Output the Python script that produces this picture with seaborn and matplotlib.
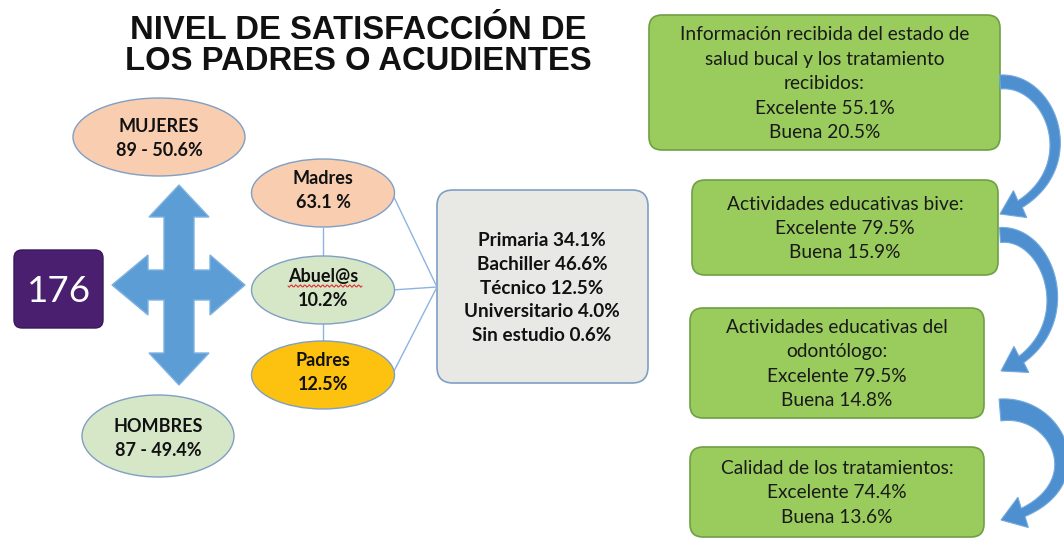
import numpy as np
import matplotlib
matplotlib.use("Agg")
import matplotlib.pyplot as plt
import seaborn as sns
from matplotlib.patches import Ellipse, FancyBboxPatch, Polygon

# --- data -------------------------------------------------------------
title = "NIVEL DE SATISFACCIÓN DE\nLOS PADRES O ACUDIENTES"
total = 176

gender_labels = ["MUJERES", "HOMBRES"]
gender_counts = [89, 87]
gender_pct = [50.6, 49.4]

guardian_labels = ["Madres", "Abuel@s", "Padres"]
guardian_pct = [63.1, 10.2, 12.5]
guardian_sep = [" ", "", ""]

education_levels = ["Primaria", "Bachiller", "Técnico", "Universitario", "Sin estudio"]
education_pct = [34.1, 46.6, 12.5, 4.0, 0.6]

survey_items = [
    "Información recibida del estado de\nsalud bucal y los tratamiento\nrecibidos:",
    "Actividades educativas bive:",
    "Actividades educativas del\nodontólogo:",
    "Calidad de los tratamientos:",
]
excelente_pct = [55.1, 79.5, 79.5, 74.4]
buena_pct = [20.5, 15.9, 14.8, 13.6]

# --- style ------------------------------------------------------------
sns.set_theme(style="white")
plt.rcParams["font.family"] = ["Lato", "DejaVu Sans"]

fig = plt.figure(figsize=(10.64, 5.40), dpi=100)
ax = fig.add_axes([0, 0, 1, 1])
ax.set_xlim(0, 1064)
ax.set_ylim(540, 0)
ax.axis("off")

line_blue = "#8db3e2"
edge_blue = "#7f9fc4"
arrow_blue = "#4d8fcf"


def lines_at(x, yc, lines, step, **kw):
    n = len(lines)
    for i, s in enumerate(lines):
        ax.text(x, yc + (i - (n - 1) / 2) * step, s, ha="center", va="center", **kw)


# title
ax.text(358, 46, title, ha="center", va="center", fontsize=23.6, fontweight="bold",
        family="Liberation Sans", linespacing=0.98, color="#111111")

# total box
ax.add_patch(FancyBboxPatch((14, 250), 89, 78, boxstyle="round,pad=0,rounding_size=8",
                            fc="#4b1f6f", ec="#3a1758", lw=1))
ax.text(59, 291, str(total), ha="center", va="center", fontsize=26.5, color="white")

# four way arrow
cx, cy = 179, 285
sw, hw = 15, 30
cross = [(cx, 185), (cx + hw, 217), (cx + sw, 217), (cx + sw, cy - sw), (210, cy - sw),
         (210, cy - hw), (245, cy), (210, cy + hw), (210, cy + sw), (cx + sw, cy + sw),
         (cx + sw, 353), (cx + hw, 353), (cx, 385), (cx - hw, 353), (cx - sw, 353),
         (cx - sw, cy + sw), (148, cy + sw), (148, cy + hw), (112, cy), (148, cy - hw),
         (148, cy - sw), (cx - sw, cy - sw), (cx - sw, 217), (cx - hw, 217)]
ax.add_patch(Polygon(cross, closed=True, fc="#5d9dd6", ec="#7fb2e0", lw=1))

# gender ellipses
gender_pos = [(159, 137, 172, 78), (158, 436, 152, 82)]
gender_fc = ["#f8cdb0", "#d6e7c8"]
for lab, cnt, p, pos, fc in zip(gender_labels, gender_counts, gender_pct, gender_pos, gender_fc):
    x, y, w, h = pos
    ax.add_patch(Ellipse((x, y), w, h, fc=fc, ec=edge_blue, lw=1))
    lines_at(x, y + 2, [lab, f"{cnt} - {p}%"], 24, fontsize=13, fontweight="bold", color="#111111")

# guardian ellipses + connectors
guardian_y = [193, 290, 375]
guardian_fc = ["#f8cdb0", "#d6e7c8", "#fdc20f"]
ax.plot([323, 323], [228, 257], color=line_blue, lw=1)
ax.plot([323, 323], [323, 342], color=line_blue, lw=1)
for y in guardian_y:
    ax.plot([392, 437], [y, 287], color=line_blue, lw=1)
for lab, p, sep, y, fc in zip(guardian_labels, guardian_pct, guardian_sep, guardian_y, guardian_fc):
    ax.add_patch(Ellipse((323, y), 143, 68, fc=fc, ec=edge_blue, lw=1, zorder=2))
    lines_at(323, y - 2, [lab, f"{p}{sep}%"], 24, fontsize=13, fontweight="bold",
             color="#111111", zorder=3)
# spell-check squiggle under Abuel@s
sx = np.linspace(288, 362, 60)
ax.plot(sx, 286 + 1.2 * np.sin((sx - 288) * 1.4), color="#e03030", lw=0.8, zorder=3)

# education box
ax.add_patch(FancyBboxPatch((437, 190), 211, 193, boxstyle="round,pad=0,rounding_size=16",
                            fc="#e8e8e5", ec=edge_blue, lw=1.2))
lines_at(542, 288, [f"{lv} {p}%" for lv, p in zip(education_levels, education_pct)], 23.8,
         fontsize=13.6, fontweight="bold", color="#111111")

# survey boxes
box_geom = [(649, 15, 351, 135), (692, 180, 306, 95), (690, 308, 294, 110), (690, 447, 294, 90)]
for item, e, b, (x, y, w, h) in zip(survey_items, excelente_pct, buena_pct, box_geom):
    ax.add_patch(FancyBboxPatch((x, y), w, h, boxstyle="round,pad=0,rounding_size=13",
                                fc="#99cc5c", ec="#6f9f45", lw=1.2))
    lines = item.split("\n") + [f"Excelente {e}%", f"Buena {b}%"]
    lines_at(x + w / 2, y + h / 2 + 1, lines, 24.5, fontsize=13.8, color="#1a1a1a")


# curved connecting arrows (cubic bezier, tapered shaft)
def curved_arrow(ctrl, w0, w1, head_w, head_l):
    P = np.array(ctrl, dtype=float)
    t = np.linspace(0, 1, 120)[:, None]
    pts = ((1 - t) ** 3 * P[0] + 3 * (1 - t) ** 2 * t * P[1]
           + 3 * (1 - t) * t ** 2 * P[2] + t ** 3 * P[3])
    seg = np.cumsum(np.r_[0, np.hypot(*np.diff(pts, axis=0).T)])
    pts = pts[seg <= seg[-1] - head_l]
    d = np.gradient(pts, axis=0)
    d /= np.hypot(d[:, 0], d[:, 1])[:, None]
    nrm = np.c_[-d[:, 1], d[:, 0]]
    w = np.linspace(w0, w1, len(pts))[:, None] / 2
    left, right = pts + nrm * w, pts - nrm * w
    tip, base = P[3], pts[-1]
    u = (tip - base) / np.hypot(*(tip - base))
    n = np.array([-u[1], u[0]])
    head = [base + n * head_w / 2, tip, base - n * head_w / 2]
    poly = np.vstack([left, head, right[::-1]])
    ax.add_patch(Polygon(poly, closed=True, fc=arrow_blue, ec="#73aade", lw=0.8, zorder=4))


curved_arrow([(1000, 82), (1055, 78), (1090, 180), (1000, 214)], 14, 8, 30, 22)
curved_arrow([(1000, 235), (1052, 231), (1085, 335), (1001, 371)], 15, 8, 30, 22)
curved_arrow([(1000, 410), (1062, 404), (1100, 495), (1001, 520)], 22, 9, 32, 22)

fig.savefig("out.png", dpi=100)
